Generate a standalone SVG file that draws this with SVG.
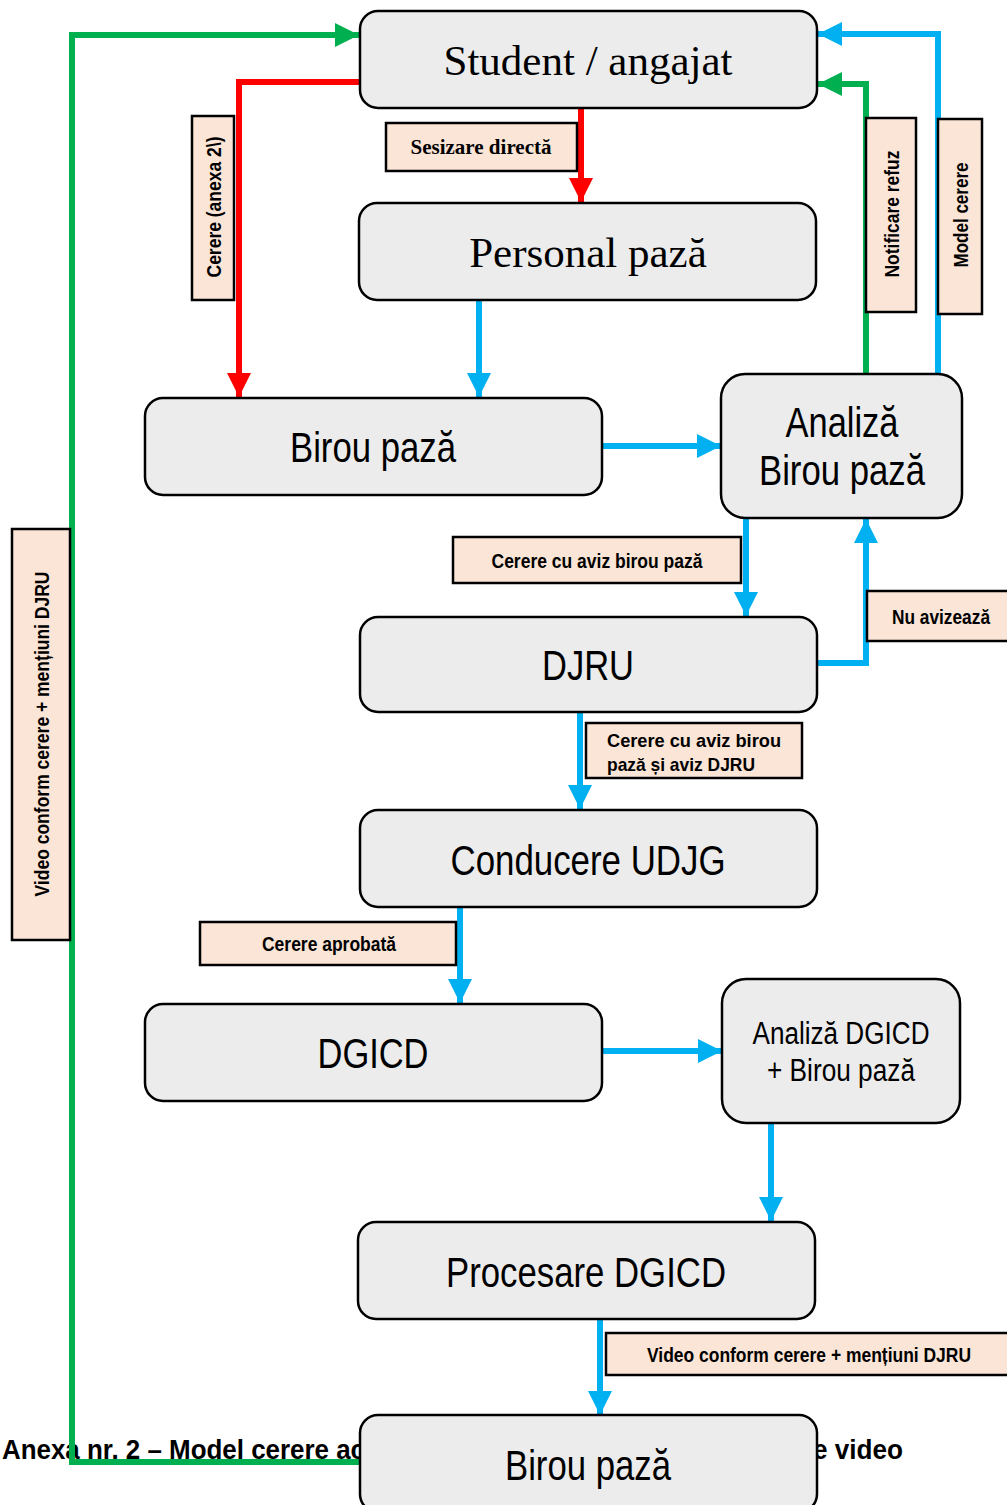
<svg xmlns="http://www.w3.org/2000/svg" width="1007" height="1505" viewBox="0 0 1007 1505">
<defs>
<style>
.node{fill:#ececec;stroke:#000;stroke-width:2.5}
.lab{fill:#fbe5d6;stroke:#000;stroke-width:2.5}
.serif{font-family:"Liberation Serif","Times New Roman",serif;fill:#000}
.sans{font-family:"Liberation Sans Narrow","Arial Narrow","Liberation Sans",sans-serif;fill:#000}
.big{font-size:42px;text-anchor:middle}
.sbig{font-size:43px;text-anchor:middle}
.lt{font-size:20.5px;font-weight:bold;text-anchor:middle}
.ls{font-size:19px;font-weight:bold}
.c{fill:none;stroke-width:6}
.blue{stroke:#00b0f0}
.green{stroke:#00b050}
.red{stroke:#ff0000}
</style>
<marker id="ab" markerUnits="userSpaceOnUse" markerWidth="26" markerHeight="24" refX="24" refY="12" orient="auto"><path d="M0,0 L24,12 L0,24 Z" fill="#00b0f0"/></marker>
<marker id="ag" markerUnits="userSpaceOnUse" markerWidth="26" markerHeight="24" refX="24" refY="12" orient="auto"><path d="M0,0 L24,12 L0,24 Z" fill="#00b050"/></marker>
<marker id="ar" markerUnits="userSpaceOnUse" markerWidth="26" markerHeight="24" refX="24" refY="12" orient="auto"><path d="M0,0 L24,12 L0,24 Z" fill="#ff0000"/></marker>
</defs>
<rect width="1007" height="1505" fill="#fff"/>
<g id="footer">
<text class="sans" x="2" y="1459" font-size="28" font-weight="bold" textLength="363" lengthAdjust="spacingAndGlyphs">Anexa nr. 2 – Model cerere ac</text>
<text class="sans" x="813" y="1459" font-size="28" font-weight="bold" textLength="90" lengthAdjust="spacingAndGlyphs">e video</text>
</g>
<g id="connectors">
<path class="c green" d="M360,1462 H72 V35 H359" marker-end="url(#ag)"/>
<path class="c red" d="M360,82 H239 V397" marker-end="url(#ar)"/>
<path class="c red" d="M581,108 V202" marker-end="url(#ar)"/>
<path class="c blue" d="M479,300 V397" marker-end="url(#ab)"/>
<path class="c blue" d="M602,446 H721" marker-end="url(#ab)"/>
<path class="c green" d="M866,374 V84 H818" marker-end="url(#ag)"/>
<path class="c blue" d="M938,374 V34 H818" marker-end="url(#ab)"/>
<path class="c blue" d="M746,518 V616" marker-end="url(#ab)"/>
<path class="c blue" d="M817,663 H866 V519" marker-end="url(#ab)"/>
<path class="c blue" d="M580,712 V809" marker-end="url(#ab)"/>
<path class="c blue" d="M460,907 V1003" marker-end="url(#ab)"/>
<path class="c blue" d="M602,1051 H722" marker-end="url(#ab)"/>
<path class="c blue" d="M771,1123 V1221" marker-end="url(#ab)"/>
<path class="c blue" d="M600,1319 V1415" marker-end="url(#ab)"/>
</g>
<g id="n-student"><rect class="node" x="360" y="11" width="457" height="97" rx="18"/><text class="serif sbig" x="588" y="75">Student / angajat</text></g>
<g id="n-personal"><rect class="node" x="359" y="203" width="457" height="97" rx="18"/><text class="serif sbig" x="588" y="267">Personal pază</text></g>
<g id="n-birou1"><rect class="node" x="145" y="398" width="457" height="97" rx="18"/><text class="sans big" x="373" y="462" textLength="166" lengthAdjust="spacingAndGlyphs">Birou pază</text></g>
<g id="n-analiza"><rect class="node" x="721" y="374" width="241" height="144" rx="24"/><text class="sans big" x="842" y="437" textLength="113" lengthAdjust="spacingAndGlyphs">Analiză</text><text class="sans big" x="842" y="485" textLength="166" lengthAdjust="spacingAndGlyphs">Birou pază</text></g>
<g id="n-djru"><rect class="node" x="360" y="617" width="457" height="95" rx="18"/><text class="sans big" x="588" y="680" textLength="92" lengthAdjust="spacingAndGlyphs">DJRU</text></g>
<g id="n-udjg"><rect class="node" x="360" y="810" width="457" height="97" rx="18"/><text class="sans big" x="588" y="875" textLength="275" lengthAdjust="spacingAndGlyphs">Conducere UDJG</text></g>
<g id="n-dgicd"><rect class="node" x="145" y="1004" width="457" height="97" rx="18"/><text class="sans big" x="373" y="1068" textLength="111" lengthAdjust="spacingAndGlyphs">DGICD</text></g>
<g id="n-analiza2"><rect class="node" x="722" y="979" width="238" height="144" rx="24"/><text class="sans" x="841" y="1044" font-size="31" text-anchor="middle" textLength="177" lengthAdjust="spacingAndGlyphs">Analiză DGICD</text><text class="sans" x="841" y="1081" font-size="31" text-anchor="middle" textLength="148" lengthAdjust="spacingAndGlyphs">+ Birou pază</text></g>
<g id="n-procesare"><rect class="node" x="358" y="1222" width="457" height="97" rx="18"/><text class="sans big" x="586" y="1287" textLength="280" lengthAdjust="spacingAndGlyphs">Procesare DGICD</text></g>
<g id="n-birou2"><rect class="node" x="360" y="1415" width="457" height="97" rx="18"/><text class="sans big" x="588" y="1480" textLength="166" lengthAdjust="spacingAndGlyphs">Birou pază</text></g>
<g id="labels">
<g id="l-sesizare"><rect class="lab" x="386" y="123" width="191" height="48"/><text class="serif" x="481" y="154" font-size="21" font-weight="bold" text-anchor="middle">Sesizare directă</text></g>
<g id="l-anexa"><rect class="lab" x="192" y="116" width="42" height="184"/><text class="sans lt" transform="translate(221,207) rotate(-90)" textLength="141" lengthAdjust="spacingAndGlyphs">Cerere (anexa 2\)</text></g>
<g id="l-notif"><rect class="lab" x="866" y="118" width="50" height="194"/><text class="sans lt" transform="translate(899,214) rotate(-90)" textLength="127" lengthAdjust="spacingAndGlyphs">Notificare refuz</text></g>
<g id="l-model"><rect class="lab" x="938" y="119" width="44" height="195"/><text class="sans lt" transform="translate(968,215) rotate(-90)" textLength="105" lengthAdjust="spacingAndGlyphs">Model cerere</text></g>
<g id="l-aviz1"><rect class="lab" x="453" y="537" width="288" height="46"/><text class="sans lt" x="597" y="568" textLength="211" lengthAdjust="spacingAndGlyphs">Cerere cu aviz birou pază</text></g>
<g id="l-nu"><rect class="lab" x="867" y="591" width="145" height="50"/><text class="sans lt" x="941" y="624" textLength="98" lengthAdjust="spacingAndGlyphs">Nu avizează</text></g>
<g id="l-aviz2"><rect class="lab" x="586" y="723" width="216" height="55"/><text class="sans ls" x="607" y="747" textLength="174" lengthAdjust="spacingAndGlyphs">Cerere cu aviz birou</text><text class="sans ls" x="607" y="771" textLength="148" lengthAdjust="spacingAndGlyphs">pază și aviz DJRU</text></g>
<g id="l-video1"><rect class="lab" x="12" y="529" width="58" height="411"/><text class="sans lt" transform="translate(49,734) rotate(-90)" textLength="325" lengthAdjust="spacingAndGlyphs">Video conform cerere + mențiuni DJRU</text></g>
<g id="l-aprobata"><rect class="lab" x="200" y="922" width="256" height="43"/><text class="sans lt" x="329" y="951" textLength="134" lengthAdjust="spacingAndGlyphs">Cerere aprobată</text></g>
<g id="l-video2"><rect class="lab" x="606" y="1333" width="405" height="42"/><text class="sans lt" x="809" y="1362" font-size="19.5" textLength="324" lengthAdjust="spacingAndGlyphs">Video conform cerere + mențiuni DJRU</text></g>
</g>
</svg>
